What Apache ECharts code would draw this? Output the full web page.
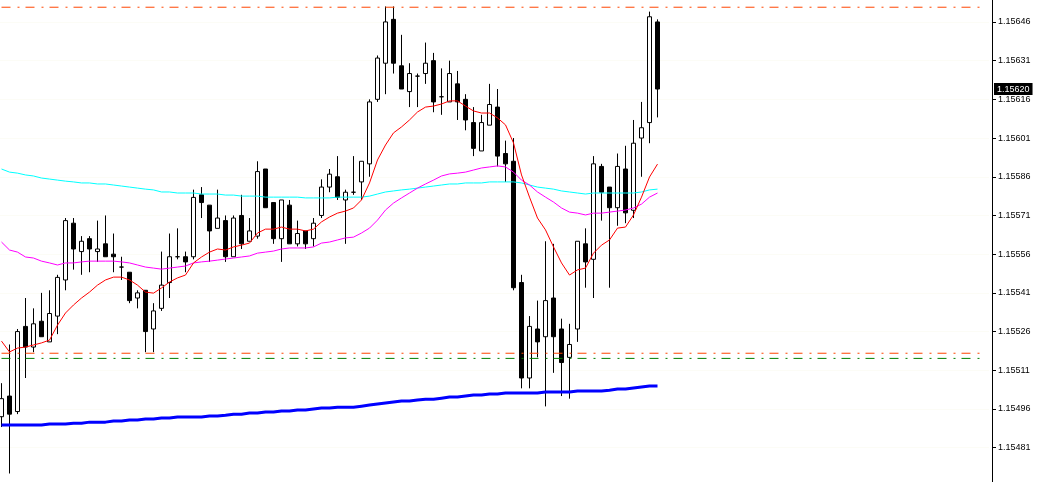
<!DOCTYPE html>
<html><head><meta charset="utf-8">
<script src="https://cdn.jsdelivr.net/npm/echarts@6/dist/echarts.min.js"></script>
<style>html,body{margin:0;padding:0;background:#fff}#c{width:1038px;height:482px}</style>
</head><body><div id="c"></div>
<script>
const open = [1.15493,1.15501,1.15495,1.15528,1.15520,1.15530,1.15522,1.15532,1.15546,1.15568,
1.15557,1.15562,1.15557,1.15560,1.15556,1.15551,1.15549,1.15539,1.15542,1.15527,
1.15535,1.15545,1.15555,1.15555,1.15555,1.15579,1.15575,1.15566,1.15569,1.15555,
1.15571,1.15561,1.15563,1.15589,1.15576,1.15562,1.15575,1.15560,1.15565,1.15562,
1.15571,1.15582,1.15586,1.15577,1.15580,1.15584,1.15591,1.15616,1.15630,1.15647,
1.15629,1.15619,1.15625,1.15626,1.15631,1.15617,1.15615,1.15622,1.15616,1.15607,
1.15596,1.15606,1.15613,1.15595,1.15592,1.15545,1.15508,1.15527,1.15524,1.15539,
1.15527,1.15516,1.15527,1.15560,1.15554,1.15590,1.15582,1.15574,1.15589,1.15573,
1.15601,1.15607,1.15646];
const close = [1.15500,1.15494,1.15526,1.15520,1.15529,1.15524,1.15533,1.15547,1.15569,1.15558,
1.15561,1.15558,1.15558,1.15555,1.15555,1.15551,1.15538,1.15541,1.15526,1.15534,
1.15544,1.15555,1.15555,1.15553,1.15578,1.15576,1.15565,1.15570,1.15555,1.15570,
1.15560,1.15565,1.15588,1.15574,1.15562,1.15577,1.15560,1.15564,1.15560,1.15568,
1.15582,1.15587,1.15578,1.15580,1.15580,1.15592,1.15615,1.15632,1.15646,1.15630,
1.15620,1.15626,1.15625,1.15630,1.15615,1.15617,1.15626,1.15615,1.15608,1.15597,
1.15607,1.15614,1.15594,1.15591,1.15543,1.15508,1.15528,1.15522,1.15538,1.15524,
1.15514,1.15521,1.15561,1.15553,1.15591,1.15580,1.15574,1.15590,1.15572,1.15599,
1.15605,1.15648,1.15620];
const low = [1.15489,1.15471,1.15494,1.15508,1.15518,1.15524,1.15522,1.15525,1.15542,1.15550,
1.15548,1.15549,1.15553,1.15555,1.15549,1.15546,1.15537,1.15535,1.15518,1.15518,
1.15534,1.15539,1.15554,1.15549,1.15554,1.15570,1.15553,1.15566,1.15553,1.15555,
1.15558,1.15561,1.15562,1.15574,1.15560,1.15553,1.15560,1.15559,1.15558,1.15559,
1.15570,1.15580,1.15577,1.15560,1.15579,1.15577,1.15586,1.15615,1.15618,1.15626,
1.15620,1.15613,1.15613,1.15622,1.15611,1.15610,1.15615,1.15608,1.15604,1.15594,
1.15596,1.15606,1.15590,1.15584,1.15542,1.15504,1.15504,1.15516,1.15497,1.15510,
1.15501,1.15500,1.15522,1.15543,1.15539,1.15569,1.15543,1.15567,1.15568,1.15570,
1.15586,1.15599,1.15609];
const high = [1.15506,1.15521,1.15527,1.15539,1.15535,1.15541,1.15542,1.15548,1.15570,1.15570,
1.15563,1.15563,1.15569,1.15571,1.15564,1.15555,1.15549,1.15542,1.15542,1.15537,
1.15557,1.15564,1.15566,1.15557,1.15581,1.15582,1.15575,1.15581,1.15571,1.15571,
1.15579,1.15570,1.15592,1.15589,1.15576,1.15577,1.15577,1.15569,1.15565,1.15570,
1.15585,1.15589,1.15594,1.15581,1.15594,1.15592,1.15616,1.15633,1.15652,1.15652,
1.15641,1.15630,1.15626,1.15638,1.15634,1.15628,1.15631,1.15627,1.15618,1.15613,
1.15610,1.15622,1.15620,1.15600,1.15601,1.15548,1.15532,1.15538,1.15561,1.15560,
1.15531,1.15529,1.15561,1.15566,1.15594,1.15591,1.15582,1.15595,1.15598,1.15608,
1.15615,1.15650,1.15647];
const maFast = [1.155223,1.155181,1.155196,1.155200,1.155208,1.155216,1.155227,1.155285,1.155332,1.155363,
1.155390,1.155413,1.155440,1.155460,1.155471,1.155471,1.155460,1.155440,1.155413,1.155409,
1.155429,1.155452,1.155468,1.155479,1.155526,1.155549,1.155568,1.155580,1.155576,1.155588,
1.155595,1.155603,1.155642,1.155657,1.155657,1.155665,1.155657,1.155657,1.155650,1.155657,
1.155685,1.155704,1.155719,1.155727,1.155739,1.155770,1.155836,1.155925,1.155983,1.156030,
1.156053,1.156080,1.156111,1.156130,1.156134,1.156142,1.156154,1.156154,1.156134,1.156115,
1.156107,1.156107,1.156088,1.156061,1.155991,1.155867,1.155781,1.155700,1.155654,1.155588,
1.155526,1.155479,1.155499,1.155506,1.155564,1.155595,1.155615,1.155661,1.155665,1.155712,
1.155781,1.155859,1.155909];
const maMid = [1.155607,1.155576,1.155568,1.155549,1.155545,1.155533,1.155526,1.155518,1.155526,1.155526,
1.155530,1.155533,1.155533,1.155533,1.155533,1.155530,1.155526,1.155518,1.155510,1.155506,
1.155502,1.155506,1.155510,1.155514,1.155526,1.155530,1.155533,1.155537,1.155541,1.155545,
1.155549,1.155553,1.155564,1.155568,1.155572,1.155580,1.155584,1.155584,1.155584,1.155588,
1.155603,1.155607,1.155615,1.155623,1.155626,1.155642,1.155661,1.155692,1.155731,1.155758,
1.155778,1.155797,1.155816,1.155832,1.155847,1.155863,1.155871,1.155874,1.155878,1.155886,
1.155894,1.155898,1.155902,1.155898,1.155878,1.155847,1.155828,1.155801,1.155781,1.155762,
1.155739,1.155723,1.155719,1.155712,1.155719,1.155719,1.155723,1.155727,1.155731,1.155739,
1.155754,1.155781,1.155797];
const maSlow = [1.155890,1.155878,1.155874,1.155867,1.155863,1.155855,1.155851,1.155847,1.155843,1.155840,
1.155836,1.155836,1.155832,1.155832,1.155828,1.155824,1.155820,1.155816,1.155812,1.155809,
1.155801,1.155801,1.155797,1.155797,1.155797,1.155793,1.155793,1.155793,1.155789,1.155789,
1.155785,1.155785,1.155785,1.155781,1.155781,1.155781,1.155781,1.155781,1.155778,1.155778,
1.155778,1.155778,1.155781,1.155781,1.155781,1.155781,1.155785,1.155793,1.155801,1.155805,
1.155809,1.155812,1.155816,1.155820,1.155824,1.155828,1.155832,1.155832,1.155836,1.155836,
1.155836,1.155840,1.155840,1.155840,1.155840,1.155836,1.155828,1.155820,1.155816,1.155812,
1.155805,1.155801,1.155797,1.155793,1.155797,1.155797,1.155797,1.155797,1.155797,1.155797,
1.155801,1.155809,1.155812];
const maLong = [1.154898,1.154898,1.154898,1.154898,1.154898,1.154898,1.154902,1.154902,1.154902,1.154905,
1.154905,1.154909,1.154909,1.154909,1.154913,1.154913,1.154917,1.154917,1.154921,1.154921,
1.154925,1.154925,1.154929,1.154929,1.154929,1.154929,1.154933,1.154933,1.154936,1.154940,
1.154940,1.154944,1.154944,1.154948,1.154948,1.154952,1.154952,1.154956,1.154956,1.154960,
1.154964,1.154964,1.154967,1.154967,1.154967,1.154971,1.154975,1.154979,1.154983,1.154987,
1.154991,1.154991,1.154995,1.154998,1.154998,1.155002,1.155006,1.155006,1.155010,1.155014,
1.155014,1.155018,1.155018,1.155022,1.155022,1.155022,1.155022,1.155022,1.155026,1.155026,
1.155026,1.155026,1.155030,1.155030,1.155030,1.155030,1.155033,1.155037,1.155037,1.155041,
1.155045,1.155049,1.155049];
const tickValues = [1.15481,1.15496,1.15511,1.15526,1.15541,1.15556,1.15571,1.15586,1.15601,1.15616,1.15631,1.15646];
const orangeLevels = [1.156517, 1.155176];
const greenLevels = [1.155156];
const lastPrice = 1.15620;
const shiftBars = 41;

const totalBars = open.length + shiftBars;
const categories = Array.from({length: totalBars}, (_, i) => String(i));
const candles = open.map((o, i) => [o, close[i], low[i], high[i]]);
const dashDot = [9, 7, 2, 6];
const yMin = 1.154677, yMax = 1.156545;

const levelSeries = (v, color) => ({
  type: 'line', data: [[categories[0], v], [categories[totalBars - 1], v]],
  symbol: 'none', silent: true, z: 3, emphasis: {disabled: true},
  lineStyle: {color, width: 1, type: dashDot}
});

const chart = echarts.init(document.getElementById('c'), null, {renderer: 'canvas'});
const maSeries = (data, color, width) => ({
  type: 'line', data, symbol: 'none', silent: true, z: 4,
  lineStyle: {color, width}, emphasis: {disabled: true}
});
chart.setOption({
  animation: false,
  backgroundColor: '#ffffff',
  grid: {left: -2.5, right: 48.5, top: 0, bottom: 0, outerBoundsMode: 'none', containLabel: false},
  xAxis: {
    type: 'category', data: categories, boundaryGap: true,
    axisLine: {show: false}, axisTick: {show: false}, axisLabel: {show: false}, splitLine: {show: false}
  },
  yAxis: [{
    type: 'value', position: 'right', offset: 2.5, scale: true,
    min: yMin, max: yMax,
    axisLine: {show: true, lineStyle: {color: '#000', width: 1}},
    axisTick: {show: true, length: 4, customValues: tickValues, lineStyle: {color: '#000'}},
    axisLabel: {customValues: tickValues, formatter: v => v.toFixed(5), color: '#000',
      fontSize: 9, fontFamily: 'Liberation Sans', margin: 6},
    splitLine: {show: true, lineStyle: {color: '#f8f8ec', type: 'dotted', width: 1}}
  }, {
    type: 'value', position: 'right', offset: 2.5, scale: true,
    min: yMin, max: yMax,
    axisLine: {show: false}, axisTick: {show: false}, splitLine: {show: false},
    axisLabel: {customValues: [lastPrice], formatter: v => v.toFixed(5), color: '#fff',
      backgroundColor: '#000', padding: [2, 3, 1, 3],
      fontSize: 9, fontFamily: 'Liberation Sans', margin: 2}
  }],
  series: [
    {
      type: 'candlestick', data: candles, barWidth: 4, silent: true, z: 2,
      itemStyle: {color: '#ffffff', color0: '#000000', borderColor: '#000000', borderColor0: '#000000', borderWidth: 1},
      emphasis: {disabled: true}
    },
    ...orangeLevels.map(v => levelSeries(v, '#ff4500')),
    ...greenLevels.map(v => levelSeries(v, '#008000')),
    maSeries(maLong, '#0000ff', 3),
    maSeries(maSlow, '#00ffff', 1),
    maSeries(maMid, '#ff00ff', 1),
    maSeries(maFast, '#ff0000', 1)
  ]
});
</script></body></html>
